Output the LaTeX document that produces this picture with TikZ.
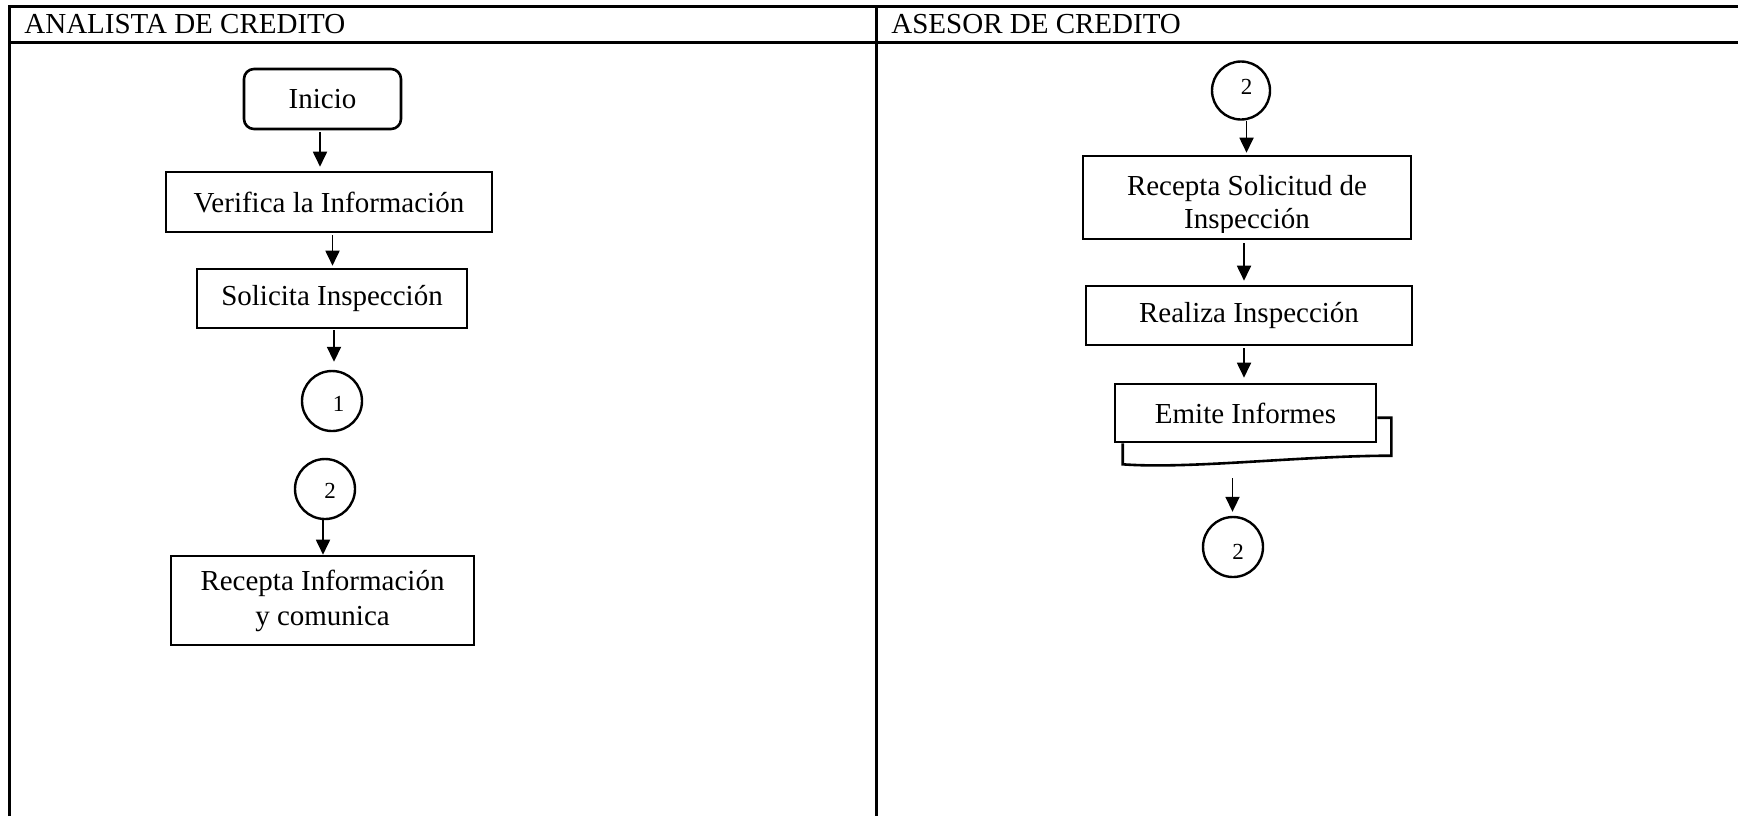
\documentclass[tikz,border=0pt]{standalone}
\usepackage{fontspec}
\setmainfont{Liberation Serif}
\usetikzlibrary{arrows.meta,calc}
\begin{document}
\begin{tikzpicture}[x=0.5pt,y=-0.5pt,
  frame/.style={line width=1.5pt},
  lane/.style={anchor=base west,inner sep=0pt,font=\fontsize{14.5}{17}\selectfont},
  proc/.style={draw,line width=1.3pt,inner sep=0pt,align=center,font=\fontsize{14.5}{17.5}\selectfont},
  start/.style={proc,rounded corners=5pt},
  conn/.style={draw,circle,line width=1.2pt,inner sep=0pt},
  num/.style={font=\fontsize{11.5}{13}\selectfont,inner sep=0pt},
  arr/.style={line width=0.9pt,-{Triangle[length=7.5pt,width=7pt]}},
]
\useasboundingbox (0,0) rectangle (1738,816);

% swimlane frame
\draw[frame] (9,816) -- (9,6) -- (1738,6);
\draw[frame] (9,42) -- (1738,42);
\draw[frame] (876,6) -- (876,816);
\node[lane] (laneA) at (24,33) {ANALISTA DE CREDITO};
\node[lane] (laneB) at (891,33) {ASESOR DE CREDITO};

% left lane
\node[start, minimum width=78.5pt, minimum height=30pt] (inicio) at (322.5,99) {Inicio};
\node[proc, minimum width=163pt, minimum height=30pt] (verif) at (329,202) {Verifica la Información};
\node[proc, minimum width=135pt, minimum height=29.5pt] (solic) at (332,298.5) {Solicita Inspección};
\node[conn, minimum size=30pt] (c1) at (332,401) {};
\node[num] (n1) at ($(c1)+(6.5,3)$) {1};
\node[conn, minimum size=30pt] (c2a) at (325,489) {};
\node[num] (n2a) at ($(c2a)+(5,2)$) {2};
\node[proc, minimum width=151.5pt, minimum height=44.5pt] (recinfo) at (322.5,600.5) {Recepta Información\\y comunica};

\draw[arr] ($(inicio.south)+(-2.5,2)$) -- ($(inicio.south |- verif.north)+(-2.5,-4)$);
\draw[arr] ($(verif.south)+(3.5,2)$) -- ($(verif.south |- solic.north)+(3.5,-2)$);
\draw[arr] ($(solic.south)+(2,1)$) -- ($(solic.south |- c1.north)+(2,-8)$);
\draw[arr] ($(c2a.south)+(-2,0)$) -- ($(c2a.south |- recinfo.north)+(-2,0)$);

% right lane
\node[conn, minimum size=29pt] (c2b) at (1241,90.5) {};
\node[num] (n2b) at ($(c2b)+(5.5,-4)$) {2};
\node[proc, minimum width=164pt, minimum height=41.5pt] (recsol) at (1247,197.5) {};
\begin{scope}
  \clip (recsol.north west) rectangle ($(recsol.south east)+(0,-7.5)$);
  \node[proc, draw=none, font=\fontsize{14.5}{16.5}\selectfont] (recsoltxt) at ($(recsol.center)+(0,8)$) {Recepta Solicitud de\\Inspección};
\end{scope}
\node[proc, minimum width=163pt, minimum height=29.5pt] (realiza) at (1249,315.5) {Realiza Inspección};
\node[proc, minimum width=130.5pt, minimum height=29pt] (emite) at (1245.5,413) {Emite Informes};
% second sheet behind the document symbol
\draw[line width=1.3pt] ($(emite.north east)+(0,35)$) -- ($(emite.north east)+(14,35)$)
  -- ($(emite.north east)+(14,73)$)
  .. controls ($(emite.north east)+(-76,73)$) and ($(emite.south west)+(76,26)$) .. ($(emite.south west)+(9,21)$)
  -- ($(emite.south west)+(9,0)$);
\node[conn, minimum size=30pt] (c2c) at (1233,547) {};
\node[num] (n2c) at ($(c2c)+(5,4.5)$) {2};

\draw[arr] ($(c2b.south)+(5.5,0.5)$) -- ($(c2b.south |- recsol.north)+(5.5,-2)$);
\draw[arr] ($(recsol.south)+(-3,3)$) -- ($(recsol.south |- realiza.north)+(-3,-4)$);
\draw[arr] ($(realiza.south)+(-5,2)$) -- ($(realiza.south |- emite.north)+(-5,-5)$);
\draw[arr] ($(emite.south)+(-13,35)$) -- ($(c2c.north)+(-0.5,-4)$);
\end{tikzpicture}
\end{document}
